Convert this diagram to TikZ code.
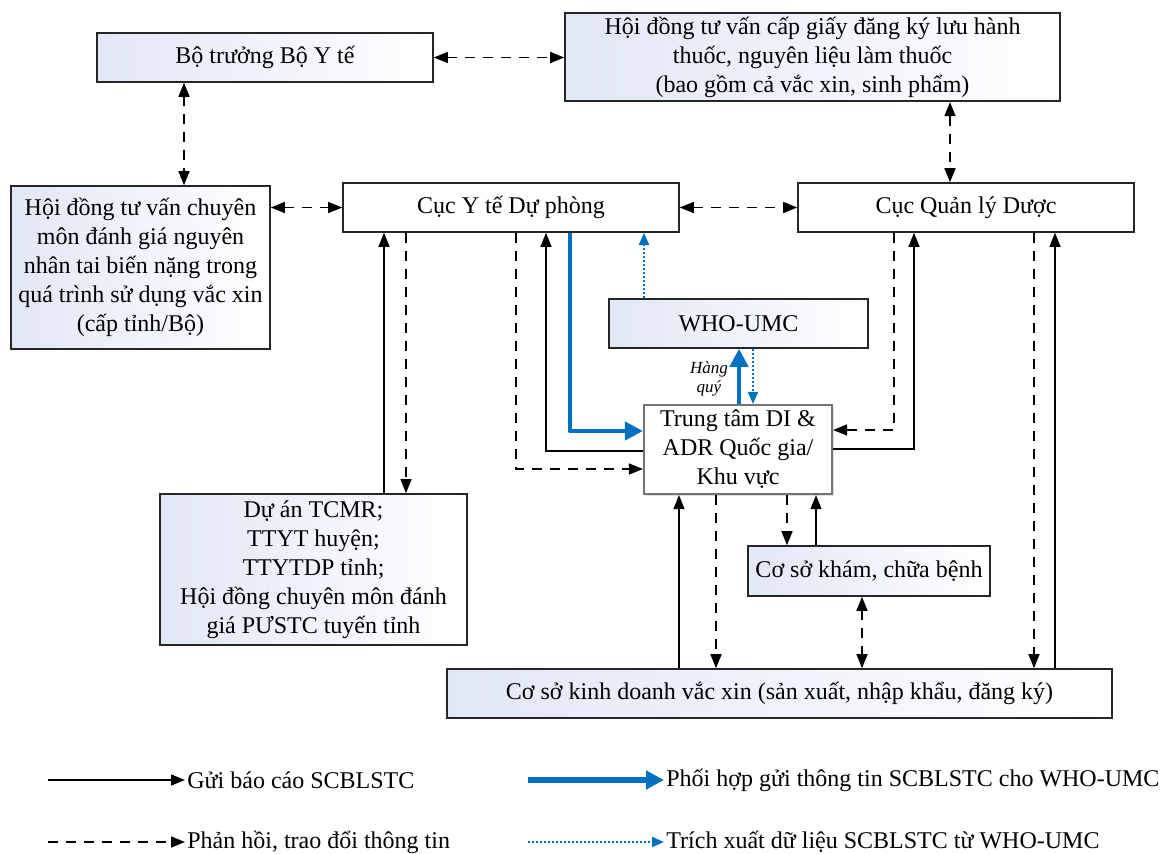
\documentclass[tikz,border=0pt]{standalone}
\usepackage{fontspec}
\setmainfont{Liberation Serif}
\usetikzlibrary{arrows.meta,shadows}
\definecolor{ublue}{RGB}{0,112,192}
\definecolor{boxblue}{RGB}{226,231,246}
\tikzset{
  box/.style={draw=black!85, line width=0.8pt, rectangle, align=center, inner sep=2pt,
    font=\fontsize{12}{14.5}\selectfont, left color=boxblue, right color=white},
  wbox/.style={draw=black!85, line width=0.8pt, rectangle, align=center, inner sep=2pt,
    font=\fontsize{12}{14.5}\selectfont, fill=white},
  tip/.style={-{Triangle[length=7pt,width=5.5pt]}},
  sol/.style={line width=0.7pt, tip},
  dsh/.style={line width=0.7pt, dash pattern=on 5pt off 4pt, tip},
  dd/.style={line width=0.7pt, dash pattern=on 5pt off 4pt, {Triangle[length=7pt,width=5.5pt]}-{Triangle[length=7pt,width=5.5pt]}},
  bth/.style={draw=ublue, line width=2.1pt, line join=round, -{Triangle[length=9pt,width=9pt]}},
  bdot/.style={draw=ublue, line width=0.8pt, dash pattern=on 1pt off 1pt, -{Triangle[length=6pt,width=5pt,fill=ublue]}, ublue},
  legtxt/.style={anchor=west, inner sep=1pt, font=\fontsize{12}{14.5}\selectfont}
}
\begin{document}
\begin{tikzpicture}[x=0.5pt, y=-0.5pt]
\useasboundingbox (0,0) rectangle (1169,853);

% boxes
\node[box, minimum width=168pt, minimum height=24.5pt] (bo) at (265,57.5) {Bộ trưởng Bộ Y tế};
\node[box, minimum width=247.5pt, minimum height=44pt] (hdcg) at (812.5,57) {Hội đồng tư vấn cấp giấy đăng ký lưu hành\\thuốc, nguyên liệu làm thuốc\\(bao gồm cả vắc xin, sinh phẩm)};
\node[box, minimum width=129.5pt, minimum height=81.5pt] (hdcm) at (140.5,267.5) {Hội đồng tư vấn chuyên\\môn đánh giá nguyên\\nhân tai biến nặng trong\\quá trình sử dụng vắc xin\\(cấp tỉnh/Bộ)};
\node[wbox, minimum width=168pt, minimum height=24.5pt] (ytdp) at (511,207.5) {Cục Y tế Dự phòng};
\node[wbox, minimum width=168pt, minimum height=24.5pt] (qld) at (966,207.5) {Cục Quản lý Dược};
\node[box, minimum width=129.5pt, minimum height=24.5pt] (who) at (738.5,323.5) {WHO-UMC};
\node[wbox, draw=black!55, line width=1.1pt, drop shadow={opacity=0.25, shadow xshift=1pt, shadow yshift=-1pt}, minimum width=94pt, minimum height=44.5pt] (ttdi) at (738,449.5) {Trung tâm DI \&\\ADR Quốc gia/\\Khu vực};
\node[box, minimum width=153.5pt, minimum height=75.5pt] (duan) at (313.5,569.5) {Dự án TCMR;\\TTYT huyện;\\TTYTDP tỉnh;\\Hội đồng chuyên môn đánh\\giá PƯSTC tuyến tỉnh};
\node[box, minimum width=121pt, minimum height=25pt] (csk) at (869,571) {Cơ sở khám, chữa bệnh};
\node[box, minimum width=332.5pt, minimum height=24.5pt] (cskd) at (779.5,693.5) {Cơ sở kinh doanh vắc xin (sản xuất, nhập khẩu, đăng ký)};

\node[font=\fontsize{8.5}{9.5}\selectfont\itshape, align=center, inner sep=0pt] (hq) at (709,379) {Hàng\\quý};

% column / row helper coordinates
\coordinate (cA) at (184,0);
\coordinate (cB) at (950,0);
\coordinate (c384) at (384,0);
\coordinate (c406) at (406,0);
\coordinate (c516) at (516,0);
\coordinate (c546) at (546,0);
\coordinate (c570) at (570,0);
\coordinate (c644) at (644,0);
\coordinate (c739) at (739,0);
\coordinate (c753) at (753,0);
\coordinate (c894) at (894,0);
\coordinate (c914) at (914,0);
\coordinate (c679) at (679,0);
\coordinate (c716) at (716,0);
\coordinate (c787) at (787,0);
\coordinate (c816) at (816,0);
\coordinate (c862) at (862,0);
\coordinate (c1034) at (1034,0);
\coordinate (c1055) at (1055,0);
\coordinate (r469) at (0,469);
\coordinate (r451) at (0,451);
\coordinate (r431) at (0,431);
\coordinate (r430) at (0,430);
\coordinate (r449) at (0,449);

% connectors
\draw[dd] (bo.east) -- (bo.east -| hdcg.west);
\draw[dd] (bo.south -| cA) -- (hdcm.north -| cA);
\draw[dd] (hdcg.south -| cB) -- (qld.north -| cB);
\draw[dd] (ytdp.west -| hdcm.east) -- (ytdp.west);
\draw[dd] (ytdp.east) -- (qld.west);

\draw[sol] (duan.north -| c384) -- (ytdp.south -| c384);
\draw[dsh] (ytdp.south -| c406) -- (duan.north -| c406);
\draw[dsh] (ytdp.south -| c516) |- (ttdi.west |- r469);
\draw[sol] (ttdi.west |- r451) -| (ytdp.south -| c546);
\draw[bth] (ytdp.south -| c570) |- (ttdi.west |- r431);
\draw[bdot] (who.north -| c644) -- (ytdp.south -| c644);
\draw[bth] (ttdi.north -| c739) -- (who.south -| c739);
\draw[bdot] (who.south -| c753) -- (ttdi.north -| c753);
\draw[dsh] (qld.south -| c894) |- (ttdi.east |- r430);
\draw[sol] (ttdi.east |- r449) -| (qld.south -| c914);
\draw[sol] (cskd.north -| c679) -- (ttdi.south -| c679);
\draw[dsh] (ttdi.south -| c716) -- (cskd.north -| c716);
\draw[dsh] (ttdi.south -| c787) -- (csk.north -| c787);
\draw[sol] (csk.north -| c816) -- (ttdi.south -| c816);
\draw[dd] (csk.south -| c862) -- (cskd.north -| c862);
\draw[dsh] (qld.south -| c1034) -- (cskd.north -| c1034);
\draw[sol] (cskd.north -| c1055) -- (qld.south -| c1055);

% legend
\coordinate (l1) at (48,780);
\coordinate (l2) at (48,842);
\coordinate (l3) at (528,780);
\coordinate (l4) at (528,842);
\node[legtxt] (t1) at (185,780) {Gửi báo cáo SCBLSTC};
\node[legtxt] (t2) at (185,842) {Phản hồi, trao đổi thông tin};
\node[legtxt] (t3) at (664,780) {Phối hợp gửi thông tin SCBLSTC cho WHO-UMC};
\node[legtxt] (t4) at (664,842) {Trích xuất dữ liệu SCBLSTC từ WHO-UMC};
\draw[sol] (l1) -- (t1.west);
\draw[dsh] (l2) -- (t2.west);
\draw[bth, line width=3pt] (l3) -- (t3.west);
\draw[bdot] (l4) -- (t4.west);
\end{tikzpicture}
\end{document}
